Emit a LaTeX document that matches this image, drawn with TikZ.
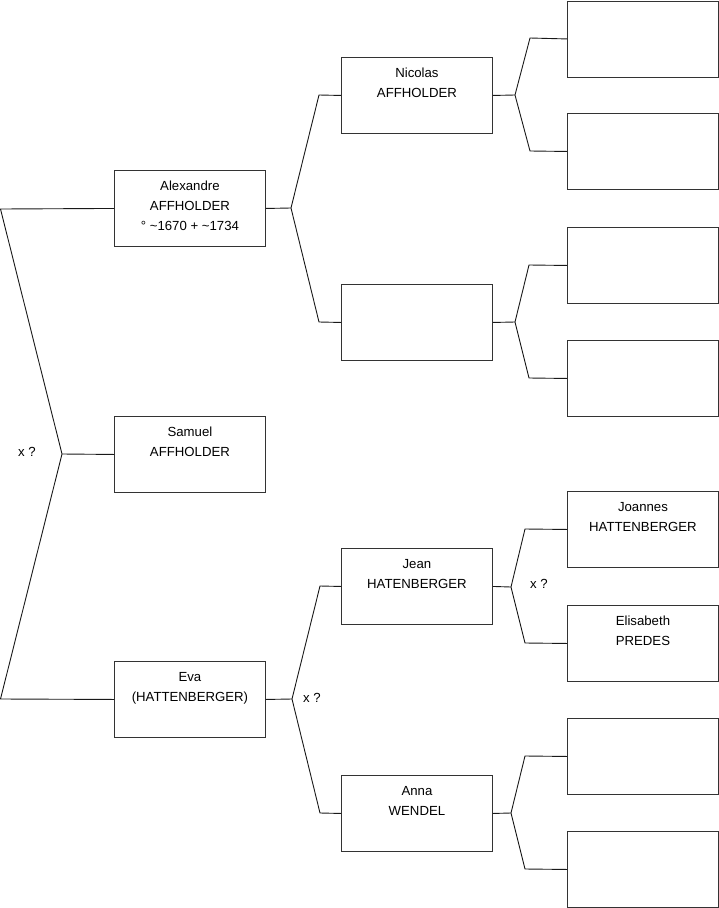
\documentclass[tikz,border=0pt]{standalone}
\usepackage{fontspec}
\setmainfont{Liberation Sans}
\newcommand\pers[1]{\parbox[c][76pt][t]{151pt}{\centering\fontsize{13.2}{20}\selectfont\rule{0pt}{20.5pt}#1\par}}
\begin{document}
\begin{tikzpicture}[x=1pt,y=-1pt,
  box/.style={draw=black!80, line width=0.9pt, minimum width=151pt, minimum height=76pt, inner sep=0pt, anchor=north west},
  conn/.style={draw=black!90, line width=0.9pt},
  lbl/.style={font=\fontsize{13.2}{15}\selectfont, inner sep=0pt}]
\useasboundingbox (0,0) rectangle (719,908);
% column 1
\node[box] (alex) at (114,170) {\pers{Alexandre\\AFFHOLDER\\° \char`~1670 + \char`~1734}};
\node[box] (sam) at (114,416) {\pers{Samuel\\AFFHOLDER}};
\node[box] (eva) at (114,661) {\pers{Eva\\(HATTENBERGER)}};
% column 2
\node[box] (nic) at (341,57) {\pers{Nicolas\\AFFHOLDER}};
\node[box] (e2) at (341,284) {\pers{}};
\node[box] (jean) at (341,548) {\pers{Jean\\HATENBERGER}};
\node[box] (anna) at (341,775) {\pers{Anna\\WENDEL}};
% column 3
\node[box] (r1) at (567,0.5) {\pers{}};
\node[box] (r2) at (567,113) {\pers{}};
\node[box] (r3) at (567,227) {\pers{}};
\node[box] (r4) at (567,340) {\pers{}};
\node[box] (joa) at (567,491) {\pers{Joannes\\HATTENBERGER}};
\node[box] (eli) at (567,605) {\pers{Elisabeth\\PREDES}};
\node[box] (r7) at (567,718) {\pers{}};
\node[box] (r8) at (567,831) {\pers{}};
% fork points
\coordinate (f0) at (62,454);
\coordinate (f0a) at (0.5,209);
\coordinate (f0b) at (0.5,699);
\coordinate (fa) at (291,208);
\coordinate (fa1) at (319,95);
\coordinate (fa2) at (319,322);
\coordinate (fe) at (292,699);
\coordinate (fe1) at (320,586);
\coordinate (fe2) at (320,813);
\coordinate (fn) at (515,95);
\coordinate (fn1) at (530,38);
\coordinate (fn2) at (530,151);
\coordinate (fx) at (515,322);
\coordinate (fx1) at (529,265);
\coordinate (fx2) at (529,378);
\coordinate (fj) at (511,587);
\coordinate (fj1) at (525,529);
\coordinate (fj2) at (525,643);
\coordinate (fw) at (511,813);
\coordinate (fw1) at (525,756);
\coordinate (fw2) at (525,869);
% connectors
\draw[conn] (sam.west) -- (f0);
\draw[conn] (alex.west) -- (f0a) -- (f0) -- (f0b) -- (eva.west);
\draw[conn] (alex.east) -- (fa);
\draw[conn] (nic.west) -- (fa1) -- (fa) -- (fa2) -- (e2.west);
\draw[conn] (eva.east) -- (fe);
\draw[conn] (jean.west) -- (fe1) -- (fe) -- (fe2) -- (anna.west);
\draw[conn] (nic.east) -- (fn);
\draw[conn] (r1.west) -- (fn1) -- (fn) -- (fn2) -- (r2.west);
\draw[conn] (e2.east) -- (fx);
\draw[conn] (r3.west) -- (fx1) -- (fx) -- (fx2) -- (r4.west);
\draw[conn] (jean.east) -- (fj);
\draw[conn] (joa.west) -- (fj1) -- (fj) -- (fj2) -- (eli.west);
\draw[conn] (anna.east) -- (fw);
\draw[conn] (r7.west) -- (fw1) -- (fw) -- (fw2) -- (r8.west);
% labels
\node[lbl] (x0) at (27,452) {x ?};
\node[lbl] (xe) at (312,698) {x ?};
\node[lbl] (xj) at (539,584) {x ?};
\end{tikzpicture}
\end{document}
